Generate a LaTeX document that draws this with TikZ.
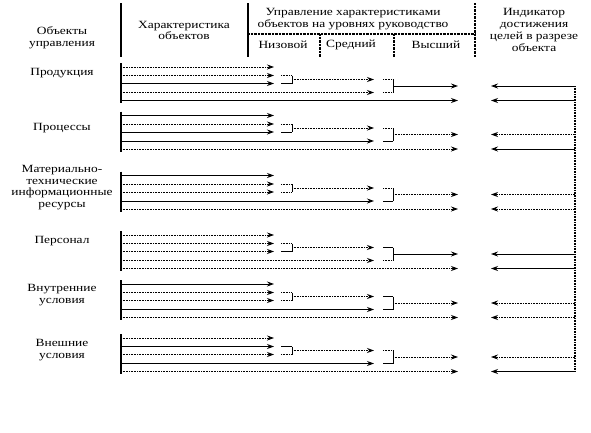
\documentclass[tikz,border=0pt]{standalone}
\usepackage{fontspec}
\setmainfont{Liberation Serif}[FakeStretch=1.22]
\usetikzlibrary{arrows.meta}
\begin{document}
\begin{tikzpicture}[x=1pt,y=-1pt,
  S/.style={line width=0.9pt},
  D/.style={line width=0.8pt,dash pattern=on 0.9pt off 0.7pt},
  arr/.style={-{Stealth[length=7pt,width=5pt]}},
  hdr/.style={line width=1.2pt},
  hdrd/.style={line width=1.2pt,dash pattern=on 0.9pt off 0.5pt},
  lbl/.style={inner sep=0pt,align=center,font=\fontsize{11}{11.8}\selectfont}]
\useasboundingbox (0,0) rectangle (591,432);
% header
\coordinate (h1t) at (121,3); \coordinate (h1b) at (121,57);
\coordinate (h2t) at (248,3); \coordinate (h2b) at (248,57);
\coordinate (h3t) at (475,3); \coordinate (h3b) at (475,57);
\coordinate (hl) at (248,34); \coordinate (hr) at (475,34);
\coordinate (h4t) at (320,34); \coordinate (h4b) at (320,57);
\coordinate (h5t) at (394,34); \coordinate (h5b) at (394,57);
\draw[hdr] (h1t) -- (h1b);
\draw[hdr] (h2t) -- (h2b);
\draw[hdrd] (h3t) -- (h3b);
\draw[hdrd] (hl) -- (hr);
\draw[hdrd] (h4t) -- (h4b);
\draw[hdrd] (h5t) -- (h5b);
\node[lbl] (tobj) at (62,37.5) {Объекты\\управления};
\node[lbl] (tchar) at (184,30.5) {Характеристика\\объектов};
\node[lbl] (tupr) at (353,19) {Управление характеристиками\\объектов на уровнях руководство};
\node[lbl] (tniz) at (283,45) {Низовой};
\node[lbl] (tsr) at (351,45) {Средний};
\node[lbl] (tvys) at (436,45) {Высший};
\node[lbl] (tind) at (534,30) {Индикатор\\достижения\\целей в разрезе\\объекта};
% left labels
\node[lbl] (tprod) at (62,73) {Продукция};
\node[lbl] (tproc) at (62,128) {Процессы};
\node[lbl] (tmat) at (62,187.5) {Материально-\\технические\\информационные\\ресурсы};
\node[lbl] (tpers) at (62,241) {Персонал};
\node[lbl] (tvnut) at (62,295) {Внутренние\\условия};
\node[lbl] (tvnesh) at (62,350) {Внешние\\условия};
% groups
\foreach \n/\y/\sa/\sb/\sc/\sd/\se/\pa/\pb/\po/\qa/\qb/\qo/\ra/\rb in {
 1/67/D/D/S/D/S/D/S/D/D/D/S/S/S,
 2/115.5/S/D/S/S/D/D/S/D/D/S/D/D/S,
 3/175.5/S/D/D/S/D/D/D/D/D/S/D/D/D,
 4/235/D/D/D/D/D/D/S/D/S/D/S/S/S,
 5/284/S/D/D/S/D/D/D/D/S/S/D/D/D,
 6/338/D/S/D/S/D/S/D/D/D/S/D/D/S}{
 \pgfmathsetmacro\ya{\y}
 \pgfmathsetmacro\yb{\y+8.5}
 \pgfmathsetmacro\yc{\y+16.5}
 \pgfmathsetmacro\yd{\y+25.5}
 \pgfmathsetmacro\ye{\y+33.5}
 \pgfmathsetmacro\yo{\y+12.5}
 \pgfmathsetmacro\yp{\y+19}
 \pgfmathsetmacro\ytop{\y-4}
 \pgfmathsetmacro\ybot{\y+36}
 \coordinate (g\n-bt) at (121,\ytop);
 \coordinate (g\n-bb) at (121,\ybot);
 \coordinate (g\n-s1) at (121,\ya);
 \coordinate (g\n-s2) at (121,\yb);
 \coordinate (g\n-s3) at (121,\yc);
 \coordinate (g\n-s4) at (121,\yd);
 \coordinate (g\n-s5) at (121,\ye);
 \coordinate (g\n-e1) at (274,\ya);
 \coordinate (g\n-e2) at (274,\yb);
 \coordinate (g\n-e3) at (274,\yc);
 \coordinate (g\n-e4) at (374,\yd);
 \coordinate (g\n-e5) at (458,\ye);
 \coordinate (g\n-p2) at (281,\yb);
 \coordinate (g\n-p3) at (281,\yc);
 \coordinate (g\n-v2) at (292,\yb);
 \coordinate (g\n-v3) at (292,\yc);
 \coordinate (g\n-vo) at (292,\yo);
 \coordinate (g\n-eo) at (374,\yo);
 \coordinate (g\n-qo) at (383,\yo);
 \coordinate (g\n-q4) at (383,\yd);
 \coordinate (g\n-wo) at (393,\yo);
 \coordinate (g\n-w4) at (393,\yd);
 \coordinate (g\n-wp) at (393,\yp);
 \coordinate (g\n-ep) at (458,\yp);
 \coordinate (g\n-rp) at (575,\yp);
 \coordinate (g\n-r5) at (575,\ye);
 \coordinate (g\n-tp) at (491,\yp);
 \coordinate (g\n-t5) at (491,\ye);
 \draw[S,line width=1.3pt] (g\n-bt) -- (g\n-bb);
 \draw[\sa,arr] (g\n-s1) -- (g\n-e1);
 \draw[\sb,arr] (g\n-s2) -- (g\n-e2);
 \draw[\sc,arr] (g\n-s3) -- (g\n-e3);
 \draw[\sd,arr] (g\n-s4) -- (g\n-e4);
 \draw[\se,arr] (g\n-s5) -- (g\n-e5);
 \draw[\pa] (g\n-p2) -- (g\n-v2);
 \draw[\pb] (g\n-p3) -- (g\n-v3);
 \draw[S] (g\n-v2) -- (g\n-v3);
 \draw[\po,arr] (g\n-vo) -- (g\n-eo);
 \draw[\qa] (g\n-qo) -- (g\n-wo);
 \draw[\qb] (g\n-q4) -- (g\n-w4);
 \draw[S] (g\n-wo) -- (g\n-w4);
 \draw[\qo,arr] (g\n-wp) -- (g\n-ep);
 \draw[\ra,arr] (g\n-rp) -- (g\n-tp);
 \draw[\rb,arr] (g\n-r5) -- (g\n-t5);
}
\draw[D,line width=1.1pt] (g1-rp) -- (g6-r5);
\end{tikzpicture}
\end{document}
